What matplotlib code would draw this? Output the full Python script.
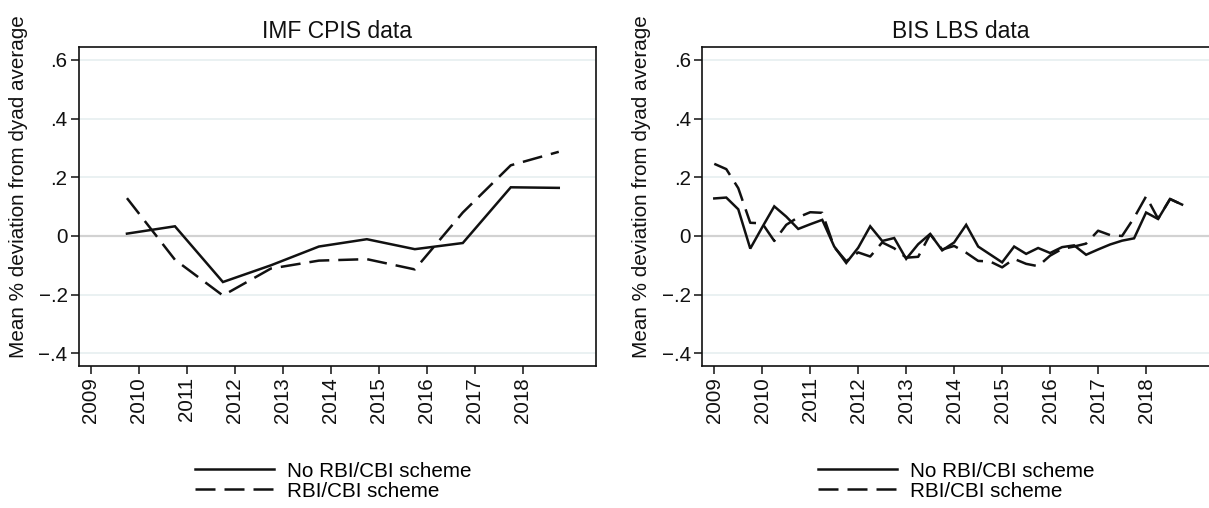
import numpy as np
import pandas as pd
import matplotlib
matplotlib.use("Agg")
import matplotlib.pyplot as plt

plt.rcParams['font.family'] = ['Liberation Sans', 'DejaVu Sans']

# ---- IMF CPIS data (annual, plotted at Q4 of each year) ----
cpis_t = [2009.75, 2010.75, 2011.75, 2012.75, 2013.75,
          2014.75, 2015.75, 2016.75, 2017.75, 2018.75]
cpis_no_scheme = [0.008, 0.033, -0.157, -0.100, -0.036,
                  -0.011, -0.045, -0.024, 0.166, 0.164]
cpis_scheme = [0.129, -0.081, -0.203, -0.111, -0.084,
               -0.079, -0.114, 0.080, 0.241, 0.287]

# ---- BIS LBS data (quarterly 2009q1 - 2018q4) ----
bis_quarters = pd.period_range('2009Q1', '2018Q4', freq='Q')
bis_t = [q.year + (q.quarter - 1) / 4 for q in bis_quarters]
bis_no_scheme = [0.128, 0.131, 0.091, -0.043, 0.030, 0.101, 0.066, 0.024,
                 0.040, 0.055, -0.036, -0.092, -0.040, 0.033, -0.017, -0.007,
                 -0.078, -0.028, 0.007, -0.049, -0.022, 0.038, -0.036, -0.063,
                 -0.090, -0.036, -0.061, -0.041, -0.058, -0.038, -0.032, -0.064,
                 -0.046, -0.029, -0.016, -0.008, 0.080, 0.058, 0.126, 0.107]
bis_scheme = [0.246, 0.228, 0.163, 0.045, 0.043, -0.017, 0.038, 0.064,
              0.081, 0.079, -0.038, -0.086, -0.056, -0.070, -0.022, -0.042,
              -0.074, -0.071, 0.006, -0.046, -0.034, -0.057, -0.085, -0.087,
              -0.107, -0.078, -0.095, -0.103, -0.067, -0.044, -0.036, -0.026,
              0.018, 0.003, 0.000, 0.062, 0.135, 0.059, 0.126, 0.107]

year_ticks = list(range(2009, 2019))
y_ticks = [-0.4, -0.2, 0, 0.2, 0.4, 0.6]
y_tick_labels = ['\u2212.4', '\u2212.2', '0', '.2', '.4', '.6']
titles = ['IMF CPIS data', 'BIS LBS data']
labels = ['No RBI/CBI scheme', 'RBI/CBI scheme']
ylabel = 'Mean % deviation from dyad average'

W, H = 1209, 508
fig = plt.figure(figsize=(W / 100, H / 100), dpi=100)

ax_w = 517 / W
ax_h = (366 - 47.3) / H
ax_b = 1 - 366 / H
ax1 = fig.add_axes([78.7 / W, ax_b, ax_w, ax_h])
ax2 = fig.add_axes([702 / W, ax_b, ax_w, ax_h])

dash = (8.0, 3.6)
series = [(cpis_t, cpis_no_scheme, cpis_scheme),
          (bis_t, bis_no_scheme, bis_scheme)]

for ax, title, (t, s0, s1) in zip([ax1, ax2], titles, series):
    # grid lines + zero line
    for yv in y_ticks:
        if yv == 0:
            ax.axhline(0, color='#d2d2d2', lw=1.6, zorder=1)
        else:
            ax.axhline(yv, color='#eaf1f2', lw=1.4, zorder=1)

    ax.plot(t, s0, color='#111111', lw=1.8, solid_joinstyle='miter',
            label=labels[0], zorder=3)
    ax.plot(t, s1, color='#111111', lw=1.8, dashes=dash,
            label=labels[1], zorder=3)

    ax.set_xlim(2008.744, 2019.52)
    ax.set_ylim(-0.4433, 0.6433)
    ax.set_xticks(year_ticks)
    ax.set_xticklabels([str(y) for y in year_ticks], rotation=90)
    ax.set_yticks(y_ticks)
    ax.set_yticklabels(y_tick_labels)
    ax.tick_params(axis='both', labelsize=14.8, length=6, width=1.1,
                   pad=2, color='#111111', labelcolor='#111111')

    for sp in ax.spines.values():
        sp.set_linewidth(1.2)
        sp.set_color('#111111')

    ax.set_title(title, fontsize=16.5, pad=7, color='#111111')
    ax.text(-0.1164, 0.563, ylabel, transform=ax.transAxes, rotation=90,
            ha='center', va='center', fontsize=14.9, color='#111111')

    ax.legend(loc='center', bbox_to_anchor=(0.492, -0.361), frameon=False,
              fontsize=14.9, handlelength=3.8, handletextpad=0.62,
              labelspacing=0.05, borderpad=0, borderaxespad=0)

fig.savefig('out.png', dpi=100)
